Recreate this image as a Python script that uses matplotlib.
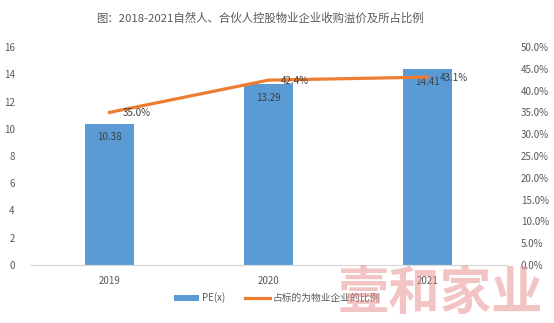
import matplotlib.pyplot as plt
from matplotlib.ticker import FuncFormatter

plt.rcParams['font.family'] = ['Noto Sans CJK SC', 'DejaVu Sans']

years = ['2019', '2020', '2021']
pe = [10.38, 13.29, 14.41]
ratio = [0.350, 0.424, 0.431]

blue = '#5B9BD5'
orange = '#ED7D31'
grey = '#595959'

fig = plt.figure(figsize=(5.54, 3.23), dpi=100)
ax1 = fig.add_axes([30/554, 1-265/323, 477/554, 218/323])
ax2 = ax1.twinx()

x = list(range(len(years)))
bars = ax1.bar(x, pe, width=0.31, color=blue, label='PE(x)', zorder=2)
line, = ax2.plot(x, ratio, color=orange, lw=2.3, label='占标的为物业企业的比例', zorder=3)

ax1.set_xlim(-0.5, 2.5)
ax1.set_ylim(0, 16)
ax1.set_yticks(range(0, 17, 2))
ax2.set_ylim(0, 0.5)
ax2.set_yticks([i * 0.05 for i in range(11)])
ax2.yaxis.set_major_formatter(FuncFormatter(lambda v, p: f'{v*100:.1f}%'))
ax1.set_xticks(x)
ax1.set_xticklabels(years)

for a in (ax1, ax2):
    for s in ('top', 'left', 'right'):
        a.spines[s].set_visible(False)
    a.spines['bottom'].set_color('#d9d9d9')
    a.tick_params(length=0, labelsize=7, colors=grey)
ax1.tick_params(axis='y', pad=11)
ax2.tick_params(axis='y', pad=10)
ax1.tick_params(axis='x', pad=8)

for xi, v in zip(x, pe):
    ax1.text(xi, v - 1.0, f'{v:.2f}', ha='center', va='center', fontsize=7, color='#404040', zorder=4)
for xi, v in zip(x, ratio):
    ax2.text(xi + 0.08, v - 0.002, f'{v*100:.1f}%', ha='left', va='center', fontsize=7, color='#404040', zorder=4)

fig.text(260/554, 1-18/323, '图：2018-2021自然人、合伙人控股物业企业收购溢价及所占比例',
         ha='center', va='center', fontsize=8.2, color=grey)

fig.legend([bars, line], ['PE(x)', '占标的为物业企业的比例'], loc='center',
           bbox_to_anchor=(0.5, 1-298/323), ncol=2, frameon=False, fontsize=7,
           labelcolor=grey, handlelength=2.6, columnspacing=2.0, handletextpad=0.3)

# watermark
fig.text(440/554, 1-293/323, '壹和家业', ha='center', va='center', fontsize=37,
         color='#e88a8a', alpha=0.5, fontweight='bold', zorder=10)

fig.savefig('out.png', dpi=100)
